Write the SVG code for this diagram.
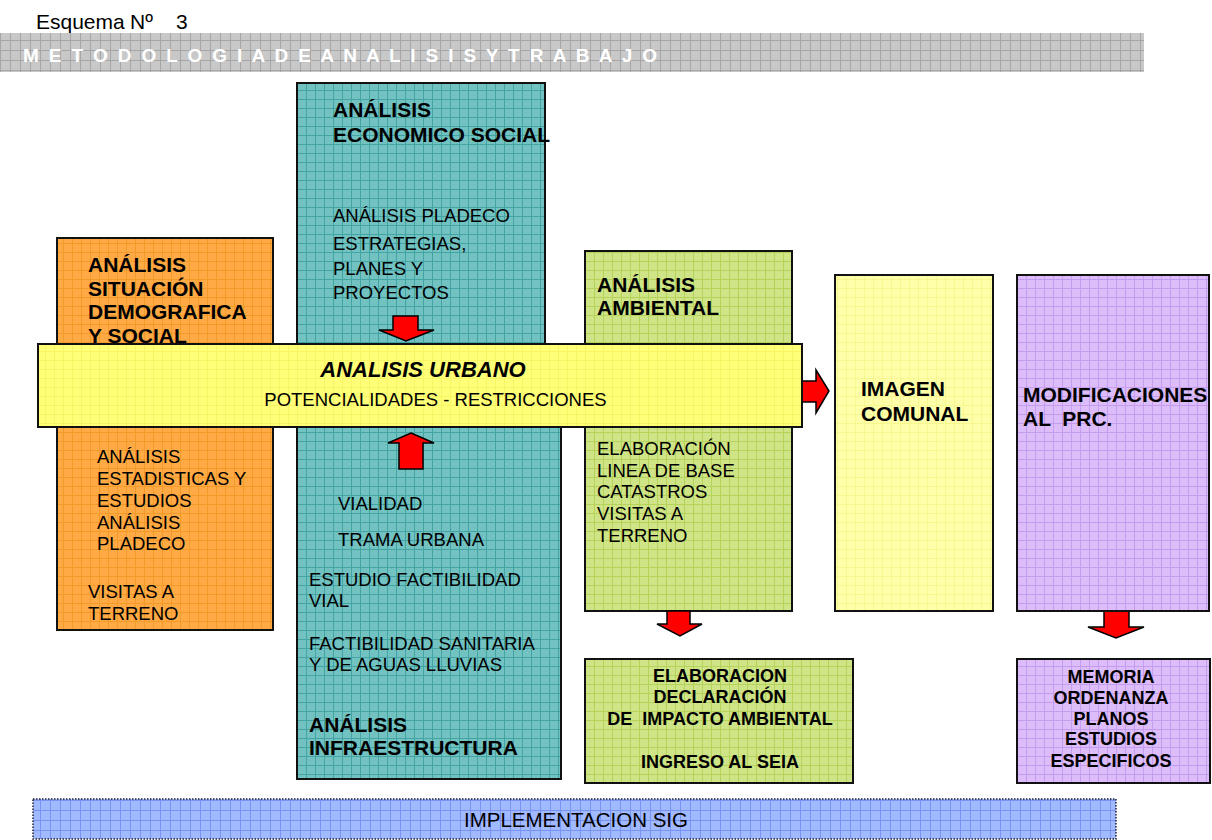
<svg xmlns="http://www.w3.org/2000/svg" width="1212" height="840" viewBox="0 0 1212 840">
<style>
.t{font-family:"Liberation Sans",Arial,sans-serif;fill:#000}
.r{font-size:18.5px}
.b{font-size:21px;font-weight:bold}
.bs{font-size:18px;font-weight:bold}
.box{stroke:#111;stroke-width:2}
.arrow{fill:#FF0000;stroke:#000;stroke-width:1.5;stroke-linejoin:miter}
</style>
<defs>
<pattern id="pGrey" patternUnits="userSpaceOnUse" width="10" height="10"><rect width="10" height="10" fill="#C8C8C8"/><path d="M0 0.5H10M0.5 0V10" stroke="#A6A6A6" stroke-width="1"/></pattern>
<pattern id="pOrange" patternUnits="userSpaceOnUse" width="9" height="9"><rect width="9" height="9" fill="#FFAA45"/><path d="M0 0.5H9M0.5 0V9" stroke="#F29A2A" stroke-width="1"/></pattern>
<pattern id="pTeal" patternUnits="userSpaceOnUse" width="9" height="9"><rect width="9" height="9" fill="#72C2C2"/><path d="M0 0.5H9M0.5 0V9" stroke="#44A3A3" stroke-width="1"/></pattern>
<pattern id="pGreen" patternUnits="userSpaceOnUse" width="9" height="9"><rect width="9" height="9" fill="#CFE487"/><path d="M0 0.5H9M0.5 0V9" stroke="#B5D25A" stroke-width="1"/></pattern>
<pattern id="pYellow" patternUnits="userSpaceOnUse" width="9" height="9"><rect width="9" height="9" fill="#FFFF78"/><path d="M0 0.5H9M0.5 0V9" stroke="#F5F565" stroke-width="1"/></pattern>
<pattern id="pLight" patternUnits="userSpaceOnUse" width="9" height="9"><rect width="9" height="9" fill="#FFFFAA"/><path d="M0 0.5H9M0.5 0V9" stroke="#F7F790" stroke-width="1"/></pattern>
<pattern id="pPurple" patternUnits="userSpaceOnUse" width="9" height="9"><rect width="9" height="9" fill="#DCBDFA"/><path d="M0 0.5H9M0.5 0V9" stroke="#C49CF0" stroke-width="1"/></pattern>
<pattern id="pBlue" patternUnits="userSpaceOnUse" width="10" height="10"><rect width="10" height="10" fill="#A1B9FF"/><path d="M0 0.5H10M0.5 0V10" stroke="#7893F2" stroke-width="1"/></pattern>
</defs>
<rect width="1212" height="840" fill="#FFFFFF"/>

<g id="header">
<text class="t" x="36" y="29" font-size="21">Esquema <tspan x="130">Nº</tspan><tspan x="176">3</tspan></text>
<rect x="0" y="33" width="1144" height="39" fill="url(#pGrey)"/>
<text x="23" y="62" font-family="Liberation Sans,Arial,sans-serif" font-size="19" font-weight="bold" fill="#FFFFFF" textLength="634" lengthAdjust="spacing">M E T O D O L O G I A D E A N A L I S I S Y T R A B A J O</text>
</g>

<g id="node-demografica">
<rect class="box" x="57" y="238" width="216" height="392" fill="url(#pOrange)"/>
<text class="t b" x="88" y="272">ANÁLISIS</text>
<text class="t b" x="88" y="295.5">SITUACIÓN</text>
<text class="t b" x="88" y="319">DEMOGRAFICA</text>
<text class="t b" x="88" y="343">Y SOCIAL</text>
<text class="t r" x="97" y="463">ANÁLISIS</text>
<text class="t r" x="97" y="485">ESTADISTICAS Y</text>
<text class="t r" x="97" y="507">ESTUDIOS</text>
<text class="t r" x="97" y="528.5">ANÁLISIS</text>
<text class="t r" x="97" y="550">PLADECO</text>
<text class="t r" x="88" y="598">VISITAS A</text>
<text class="t r" x="88" y="620">TERRENO</text>
</g>

<g id="node-economico">
<rect class="box" x="297" y="83" width="248" height="280" fill="url(#pTeal)"/>
<text class="t b" x="333" y="117">ANÁLISIS</text>
<text class="t b" x="333" y="142">ECONOMICO SOCIAL</text>
<text class="t r" x="333" y="222">ANÁLISIS PLADECO</text>
<text class="t r" x="333" y="250">ESTRATEGIAS,</text>
<text class="t r" x="333" y="275">PLANES Y</text>
<text class="t r" x="333" y="299">PROYECTOS</text>
</g>

<g id="node-infraestructura">
<rect class="box" x="297" y="415" width="264" height="364" fill="url(#pTeal)"/>
<text class="t r" x="338" y="510">VIALIDAD</text>
<text class="t r" x="338" y="546">TRAMA URBANA</text>
<text class="t r" x="309" y="586">ESTUDIO FACTIBILIDAD</text>
<text class="t r" x="309" y="607">VIAL</text>
<text class="t r" x="309" y="650">FACTIBILIDAD SANITARIA</text>
<text class="t r" x="309" y="671">Y DE AGUAS LLUVIAS</text>
<text class="t b" x="309" y="732">ANÁLISIS</text>
<text class="t b" x="309" y="755">INFRAESTRUCTURA</text>
</g>

<g id="node-ambiental">
<rect class="box" x="585" y="251" width="207" height="360" fill="url(#pGreen)"/>
<text class="t b" x="597" y="292">ANÁLISIS</text>
<text class="t b" x="597" y="315">AMBIENTAL</text>
<text class="t r" x="597" y="455">ELABORACIÓN</text>
<text class="t r" x="597" y="477">LINEA DE BASE</text>
<text class="t r" x="597" y="498">CATASTROS</text>
<text class="t r" x="597" y="520">VISITAS A</text>
<text class="t r" x="597" y="542">TERRENO</text>
</g>

<g id="connectors">
<polygon class="arrow" points="393,316 418,316 418,330 434,330 406,341 379,330 393,330"/>
<polygon class="arrow" points="411,433 434,443 423,443 423,469 399,469 399,443 388,443"/>
<polygon class="arrow" points="802,381 816,381 816,370 829,391 816,413 816,402 802,402"/>
<polygon class="arrow" points="667,611 690,611 690,624 702,624 680,636 657,624 667,624"/>
<polygon class="arrow" points="1104,611 1129,611 1129,627 1144,627 1116,638 1088,627 1104,627"/>
</g>

<g id="node-urbano">
<rect class="box" x="38" y="344" width="764" height="83" fill="url(#pYellow)"/>
<text class="t" x="423" y="377" font-size="22" font-weight="bold" font-style="italic" text-anchor="middle">ANALISIS URBANO</text>
<text class="t r" x="435.5" y="406" text-anchor="middle">POTENCIALIDADES - RESTRICCIONES</text>
</g>

<g id="node-imagen">
<rect class="box" x="835" y="275" width="158" height="336" fill="url(#pLight)"/>
<text class="t b" x="861" y="396">IMAGEN</text>
<text class="t b" x="861" y="421">COMUNAL</text>
</g>

<g id="node-modificaciones">
<rect class="box" x="1017" y="275" width="192" height="336" fill="url(#pPurple)"/>
<text class="t b" x="1023" y="402">MODIFICACIONES</text>
<text class="t b" x="1023" y="426" xml:space="preserve">AL  PRC.</text>
</g>

<g id="node-dia">
<rect class="box" x="585" y="659" width="268" height="124" fill="url(#pGreen)"/>
<text class="t bs" x="720" y="682" text-anchor="middle">ELABORACION</text>
<text class="t bs" x="720" y="703" text-anchor="middle">DECLARACIÓN</text>
<text class="t bs" x="720" y="725" text-anchor="middle" xml:space="preserve">DE  IMPACTO AMBIENTAL</text>
<text class="t bs" x="720" y="768" text-anchor="middle">INGRESO AL SEIA</text>
</g>

<g id="node-memoria">
<rect class="box" x="1017" y="659" width="193" height="124" fill="url(#pPurple)"/>
<text class="t bs" x="1111" y="683" text-anchor="middle" font-size="18.5">MEMORIA</text>
<text class="t bs" x="1111" y="703.5" text-anchor="middle" font-size="18.5">ORDENANZA</text>
<text class="t bs" x="1111" y="724.5" text-anchor="middle" font-size="18.5">PLANOS</text>
<text class="t bs" x="1111" y="745" text-anchor="middle" font-size="18.5">ESTUDIOS</text>
<text class="t bs" x="1111" y="766.5" text-anchor="middle" font-size="18.5">ESPECIFICOS</text>
</g>

<g id="node-sig">
<rect x="33" y="799" width="1083" height="40" fill="url(#pBlue)" stroke="#223" stroke-width="1.5" stroke-dasharray="1.5,1.5"/>
<text class="t" x="576" y="827" font-size="20.5" text-anchor="middle">IMPLEMENTACION SIG</text>
</g>
</svg>
